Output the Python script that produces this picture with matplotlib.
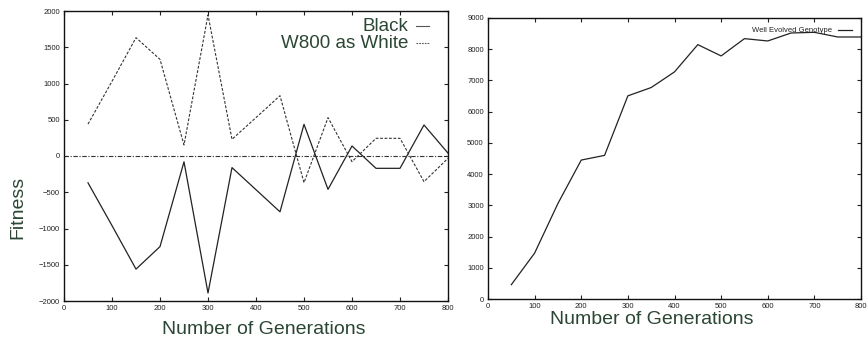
import matplotlib
matplotlib.use("Agg")
import matplotlib.pyplot as plt

gens = [50, 100, 150, 200, 250, 300, 350, 400, 450, 500, 550, 600, 650, 700, 750, 800]
black = [-370, -960, -1560, -1250, -80, -1890, -160, -465, -770, 437, -460, 138, -170, -170, 428, 40]
white = [440, 1030, 1632, 1333, 152, 1945, 230, 530, 832, -368, 529, -78, 244, 244, -354, -32]
genotype = [458, 1470, 3060, 4450, 4600, 6507, 6773, 7274, 8147, 7785, 8339, 8264, 8520, 8541, 8392, 8392]

xticks = [0, 100, 200, 300, 400, 500, 600, 700, 800]
left_yticks = [-2000, -1500, -1000, -500, 0, 500, 1000, 1500, 2000]
right_yticks = [0, 1000, 2000, 3000, 4000, 5000, 6000, 7000, 8000, 9000]

plt.rcParams['font.family'] = ['Liberation Sans', 'DejaVu Sans']
W, H = 867, 342
fig = plt.figure(figsize=(W / 100, H / 100), dpi=100)
green = '#2b4634'
linec = '#222222'

def frac(x0, y0, x1, y1):
    return [x0 / W, 1 - y1 / H, (x1 - x0) / W, (y1 - y0) / H]

def style(ax):
    ax.tick_params(direction='in', top=True, right=True, length=3, width=0.8,
                   labelsize=5.5, colors='#222222', pad=3)
    for s in ax.spines.values():
        s.set_linewidth(1.0)
        s.set_color('#111111')

ax1 = fig.add_axes(frac(64, 11, 448, 301))
ax1.plot(gens, black, color=linec, lw=0.9)
ax1.plot(gens, white, color='#333333', lw=0.8, linestyle=(0, (2.5, 1.5)))
ax1.axhline(0, color='#333333', lw=0.8, linestyle=(0, (4, 1.5, 1, 1.5)))
ax1.set_xlim(0, 800)
ax1.set_ylim(-2000, 2000)
ax1.set_xticks(xticks)
ax1.set_yticks(left_yticks)
style(ax1)
# legend
fig.text(408 / W, 1 - 31 / H, 'Black', ha='right', va='baseline', fontsize=13.5, color=green)
fig.text(408 / W, 1 - 48 / H, 'W800 as White', ha='right', va='baseline', fontsize=13.5, color=green)
fig.add_artist(plt.Line2D([416 / W, 429 / W], [1 - 26 / H, 1 - 26 / H], color='#555555', lw=0.8))
fig.add_artist(plt.Line2D([416 / W, 429 / W], [1 - 43 / H, 1 - 43 / H], color='#555555', lw=0.8,
                          linestyle=(0, (1.5, 1))))
fig.text(264 / W, 1 - 329 / H, 'Number of Generations', ha='center', va='center', fontsize=14, color=green)
fig.text(18 / W, 1 - 207 / H, 'Fitness', ha='center', va='center', rotation=90, fontsize=14, color=green)

ax2 = fig.add_axes(frac(488, 18, 861, 299))
ax2.plot(gens, genotype, color=linec, lw=0.9)
ax2.set_xlim(0, 800)
ax2.set_ylim(0, 9000)
ax2.set_xticks(xticks)
ax2.set_yticks(right_yticks)
style(ax2)
fig.text(832 / W, 1 - 30 / H, 'Well Evolved Genotype', ha='right', va='center', fontsize=5.5, color='#222222')
fig.add_artist(plt.Line2D([838 / W, 852 / W], [1 - 30 / H, 1 - 30 / H], color='#222222', lw=0.9))
fig.text(652 / W, 1 - 319 / H, 'Number of Generations', ha='center', va='center', fontsize=14, color=green)

fig.savefig('out.png', dpi=100)
